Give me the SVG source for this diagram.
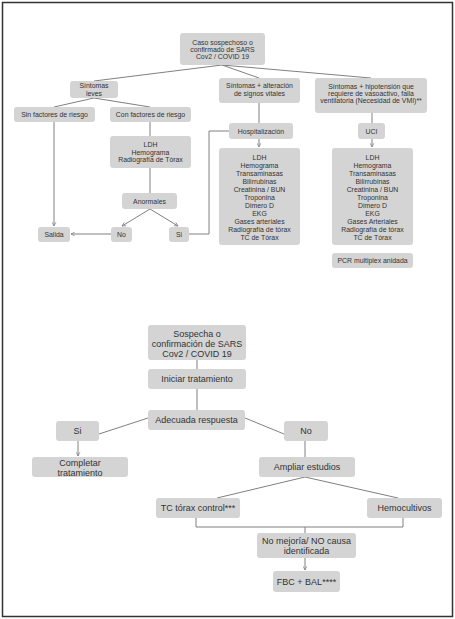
<svg xmlns="http://www.w3.org/2000/svg" width="455" height="619" viewBox="0 0 455 619">
<defs>
<style>
.b{fill:#d4d4d4;stroke:none}
.t{font-family:"Liberation Sans",Arial,sans-serif;font-size:6.9px;fill:#333;text-anchor:middle}
.T{font-family:"Liberation Sans",Arial,sans-serif;font-size:9px;fill:#333;text-anchor:middle}
.c{fill:none;stroke:#808080;stroke-width:1}
.a{marker-end:url(#ah)}
</style>
<marker id="ah" viewBox="0 0 8 8" refX="7" refY="4" markerWidth="5" markerHeight="5" orient="auto" markerUnits="userSpaceOnUse">
<path d="M1,1 L7,4 L1,7" fill="none" stroke="#808080" stroke-width="1.2"/>
</marker>
</defs>
<rect x="2.5" y="2.5" width="450" height="614" fill="#fff" stroke="#333" stroke-width="1.5"/>
<g id="connectors">
<path class="c" d="M222,65 L94,81"/>
<path class="c" d="M222,65 L259,78"/>
<path class="c" d="M222,65 L371,78"/>
<path class="c" d="M94,98 L54,107"/>
<path class="c" d="M94,98 L150,107"/>
<path class="c" d="M150,122 V136"/>
<path class="c" d="M150,168 V193"/>
<path class="c a" d="M54,122 V226"/>
<path class="c a" d="M111,234 H71"/>
<path class="c a" d="M150,209 L122,226"/>
<path class="c a" d="M150,209 L178,226"/>
<path class="c" d="M189,234 H209 V131 H229"/>
<path class="c" d="M259,103 V123"/>
<path class="c a" d="M259,139 V147"/>
<path class="c" d="M372,113 V123"/>
<path class="c a" d="M372,139 V147"/>
<path class="c" d="M197,360 V369"/>
<path class="c" d="M197,389 V410"/>
<path class="c" d="M148,418 L99,434"/>
<path class="c" d="M245,418 L284,434"/>
<path class="c a" d="M78,441 V456"/>
<path class="c" d="M305,441 V457"/>
<path class="c" d="M305,477 L217,498"/>
<path class="c" d="M305,477 L398,498"/>
<path class="c" d="M196,518 V527 H403 V518"/>
<path class="c" d="M305,527 V533"/>
<path class="c a" d="M305,558 V570"/>
</g>
<g id="n1"><rect class="b" x="180" y="33" width="85" height="32" rx="3"/><text class="t" x="222.5" y="44.5">Caso sospechoso o</text><text class="t" x="222.5" y="51.5">confirmado de SARS</text><text class="t" x="222.5" y="58.5">Cov2 / COVID 19</text></g>
<g id="n2"><rect class="b" x="70" y="81" width="48" height="17" rx="3"/><text class="t" x="94" y="88.3">Síntomas</text><text class="t" x="94" y="95.5">leves</text></g>
<g id="n3"><rect class="b" x="219" y="78" width="81" height="25" rx="3"/><text class="t" x="259.5" y="87.5">Síntomas  + alteración</text><text class="t" x="259.5" y="95.5">de signos vitales</text></g>
<g id="n4"><rect class="b" x="315" y="78" width="112" height="35" rx="3"/><text class="t" x="371" y="89">Síntomas  + hipotensión que</text><text class="t" x="371" y="96">requiere de vasoactivo, falla</text><text class="t" x="371" y="103">ventilatoria (Necesidad de VMI)**</text></g>
<g id="n5"><rect class="b" x="14" y="107" width="81" height="15" rx="3"/><text class="t" x="54.5" y="117">Sin factores de riesgo</text></g>
<g id="n6"><rect class="b" x="110" y="107" width="81" height="15" rx="3"/><text class="t" x="150.5" y="117">Con factores de riesgo</text></g>
<g id="n7"><rect class="b" x="110" y="136" width="81" height="32" rx="3"/><text class="t" x="150.5" y="147">LDH</text><text class="t" x="150.5" y="154.5">Hemograma</text><text class="t" x="150.5" y="162">Radiografía de Tórax</text></g>
<g id="n8"><rect class="b" x="122" y="193" width="55" height="16" rx="3"/><text class="t" x="149.5" y="203.5">Anormales</text></g>
<g id="n9"><rect class="b" x="38" y="227" width="32" height="15" rx="3"/><text class="t" x="54" y="237">Salida</text></g>
<g id="n10"><rect class="b" x="111" y="227" width="21" height="15" rx="3"/><text class="t" x="121.5" y="237">No</text></g>
<g id="n11"><rect class="b" x="169" y="227" width="20" height="15" rx="3"/><text class="t" x="179" y="237">Si</text></g>
<g id="n12"><rect class="b" x="229" y="123" width="64" height="16" rx="3"/><text class="t" x="261" y="133.5">Hospitalización</text></g>
<g id="n13"><rect class="b" x="358" y="123" width="27" height="16" rx="3"/><text class="t" x="371.5" y="133.5">UCI</text></g>
<g id="n14"><rect class="b" x="219" y="148" width="81" height="97" rx="3"/>
<text class="t" x="259.5" y="159.5">LDH</text><text class="t" x="259.5" y="167.5">Hemograma</text><text class="t" x="259.5" y="175.5">Transaminasas</text><text class="t" x="259.5" y="183.5">Bilirrubinas</text><text class="t" x="259.5" y="191.5">Creatinina / BUN</text><text class="t" x="259.5" y="199.5">Troponina</text><text class="t" x="259.5" y="207.5">Dimero D</text><text class="t" x="259.5" y="215.5">EKG</text><text class="t" x="259.5" y="223.5">Gases arteriales</text><text class="t" x="259.5" y="231.5">Radiografía de tórax</text><text class="t" x="259.5" y="239.5">TC de Tórax</text></g>
<g id="n15"><rect class="b" x="332" y="148" width="81" height="97" rx="3"/>
<text class="t" x="372.5" y="159.5">LDH</text><text class="t" x="372.5" y="167.5">Hemograma</text><text class="t" x="372.5" y="175.5">Transaminasas</text><text class="t" x="372.5" y="183.5">Bilirrubinas</text><text class="t" x="372.5" y="191.5">Creatinina / BUN</text><text class="t" x="372.5" y="199.5">Troponina</text><text class="t" x="372.5" y="207.5">Dimero D</text><text class="t" x="372.5" y="215.5">EKG</text><text class="t" x="372.5" y="223.5">Gases Arteriales</text><text class="t" x="372.5" y="231.5">Radiografía de tórax</text><text class="t" x="372.5" y="239.5">TC de Tórax</text></g>
<g id="n16"><rect class="b" x="332" y="253" width="81" height="15" rx="3"/><text class="t" x="372.5" y="263">PCR multiplex anidada</text></g>
<g id="m1"><rect class="b" x="148" y="325" width="98" height="35" rx="3"/><text class="T" x="197" y="337.2">Sospecha o</text><text class="T" x="197" y="347.2">confirmación de SARS</text><text class="T" x="197" y="356.5">Cov2 / COVID 19</text></g>
<g id="m2"><rect class="b" x="148" y="369" width="98" height="20" rx="3"/><text class="T" x="197" y="382.2">Iniciar tratamiento</text></g>
<g id="m3"><rect class="b" x="148" y="410" width="97" height="20" rx="3"/><text class="T" x="196.5" y="423.2">Adecuada respuesta</text></g>
<g id="m4"><rect class="b" x="56" y="421" width="43" height="20" rx="3"/><text class="T" x="77.5" y="434.2">Si</text></g>
<g id="m5"><rect class="b" x="284" y="421" width="44" height="20" rx="3"/><text class="T" x="306" y="434.2">No</text></g>
<g id="m6"><rect class="b" x="32" y="457" width="96" height="20" rx="3"/><text class="T" x="80" y="465.8">Completar</text><text class="T" x="80" y="475.8">tratamiento</text></g>
<g id="m7"><rect class="b" x="259" y="457" width="96" height="20" rx="3"/><text class="T" x="307" y="470.2">Ampliar estudios</text></g>
<g id="m8"><rect class="b" x="156" y="498" width="84" height="20" rx="3"/><text class="T" x="198" y="511.2">TC tórax control***</text></g>
<g id="m9"><rect class="b" x="367" y="498" width="75" height="20" rx="3"/><text class="T" x="404.5" y="511.2">Hemocultivos</text></g>
<g id="m10"><rect class="b" x="257" y="533" width="99" height="25" rx="3"/><text class="T" x="306.5" y="543.5">No mejoría/ NO causa</text><text class="T" x="306.5" y="553.5">identificada</text></g>
<g id="m11"><rect class="b" x="273" y="571" width="67" height="21" rx="3"/><text class="T" x="306.5" y="584.7">FBC + BAL****</text></g>
</svg>
